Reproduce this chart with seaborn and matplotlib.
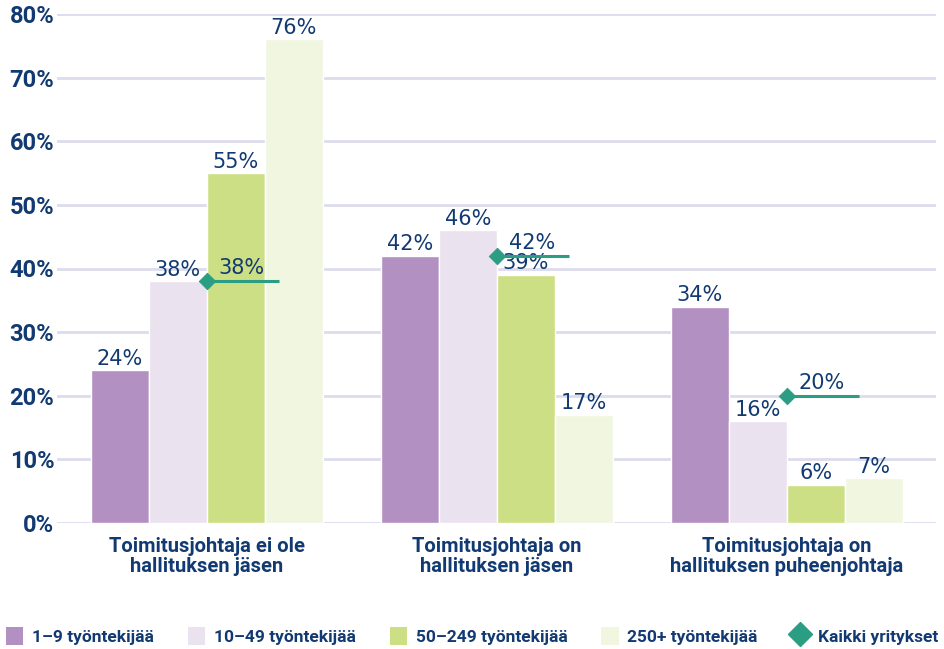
import numpy as np
import pandas as pd
import matplotlib
matplotlib.use("Agg")
import matplotlib.pyplot as plt
import seaborn as sns
from matplotlib.patches import Patch
from matplotlib.lines import Line2D

# data
categories = ["Toimitusjohtaja ei ole\nhallituksen jäsen",
              "Toimitusjohtaja on\nhallituksen jäsen",
              "Toimitusjohtaja on\nhallituksen puheenjohtaja"]
sizes = ["1–9 työntekijää", "10–49 työntekijää", "50–249 työntekijää", "250+ työntekijää"]
v_1_9 = [24, 42, 34]
v_10_49 = [38, 46, 16]
v_50_249 = [55, 39, 6]
v_250 = [76, 17, 7]
all_firms = [38, 42, 20]
all_label = "Kaikki yritykset"

colors = ["#b390c2", "#ebe2f0", "#cddf84", "#f0f6e0"]
navy = "#123a72"
green = "#2a9d82"

sns.set_theme(style="white")
plt.rcParams["font.family"] = ["Roboto", "DejaVu Sans"]

rows = []
for s, vals in zip(sizes, [v_1_9, v_10_49, v_50_249, v_250]):
    for c, v in zip(categories, vals):
        rows.append({"cat": c, "size": s, "val": v})
df = pd.DataFrame(rows)

fig = plt.figure(figsize=(9.44, 6.49), dpi=100)
ax = fig.add_axes([57 / 944, 1 - 523 / 649, 879 / 944, 509 / 649])

sns.barplot(data=df, x="cat", y="val", hue="size", hue_order=sizes,
            palette=colors, saturation=1, width=0.8, edgecolor="white", linewidth=1,
            ax=ax, legend=False, zorder=3)

for cont in ax.containers:
    ax.bar_label(cont, labels=[f"{int(b.get_height())}%" for b in cont],
                 padding=1, fontsize=15, color=navy, zorder=5, family="DejaVu Sans")

# all firms marker + line
xs = np.arange(len(categories))
ax.hlines(all_firms, xs, xs + 0.25, color=green, lw=2.2, zorder=6)
sns.scatterplot(x=xs, y=all_firms, marker="D", s=70, color=green,
                edgecolor=green, ax=ax, zorder=7, legend=False)
for x, v in zip(xs, all_firms):
    ax.annotate(f"{v}%", (x + 0.04, v), xytext=(0, 2), textcoords="offset points",
                ha="left", va="bottom", fontsize=15, color=navy, zorder=8,
                family="DejaVu Sans")

ax.set_ylim(0, 80)
ax.set_xlim(-0.517, 2.514)
ax.set_yticks(range(0, 81, 10))
ax.set_yticklabels([f"{t}%" for t in range(0, 81, 10)], fontsize=17,
                   fontweight="bold", color=navy)
ax.tick_params(axis="y", length=0, pad=2)
ax.tick_params(axis="x", length=0, pad=10)
for lab in ax.get_xticklabels():
    lab.set_fontsize(14.5)
    lab.set_fontweight("bold")
    lab.set_color(navy)
    lab.set_linespacing(1.1)
ax.set_xlabel("")
ax.set_ylabel("")
ax.yaxis.grid(True, color="#dcdcec", lw=2, zorder=0)
ax.set_axisbelow(True)
for sp in ax.spines.values():
    sp.set_visible(False)

handles = [Patch(facecolor=c, edgecolor="none") for c in colors]
handles.append(Line2D([], [], marker="D", color=green, lw=0, markersize=12))
fig.legend(handles, sizes + [all_label], loc="center", bbox_to_anchor=(0.5, 1 - 636 / 649),
           ncol=5, frameon=False, handlelength=1.0, handleheight=1.3, handletextpad=0.5,
           columnspacing=1.95, prop={"weight": "bold", "size": 12.5}, labelcolor=navy)

fig.savefig("out.png", dpi=100)
